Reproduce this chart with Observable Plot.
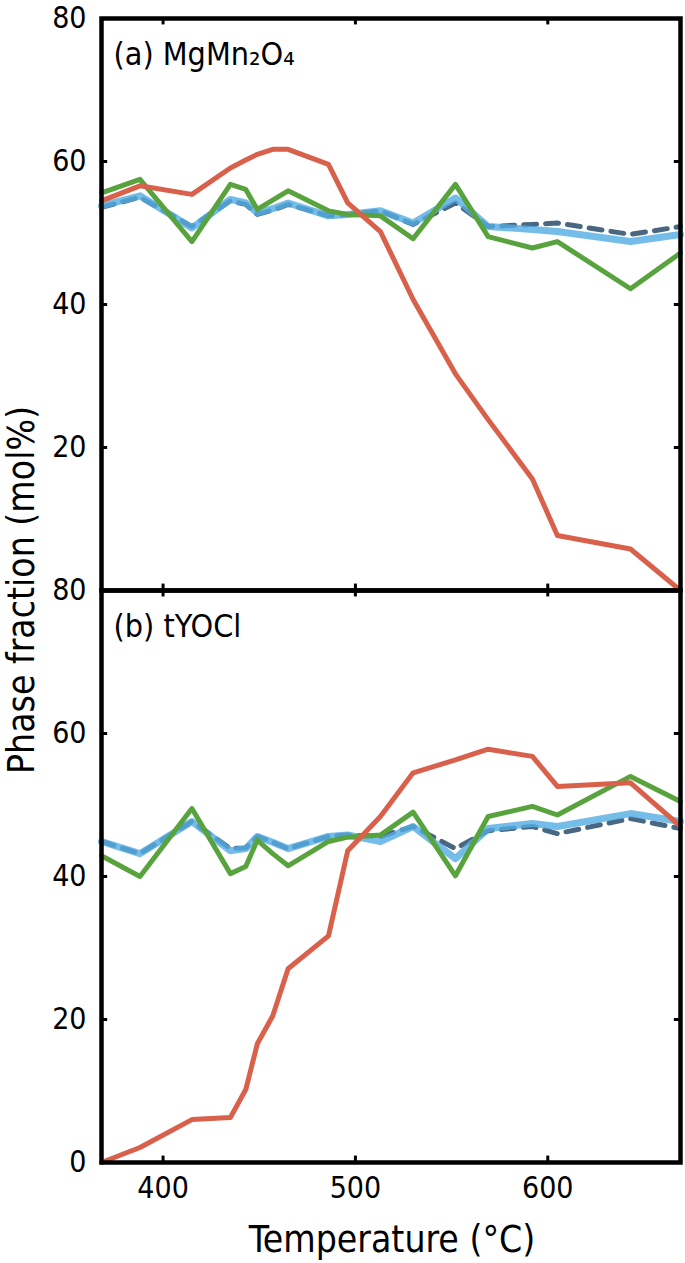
<!DOCTYPE html>
<html>
<head>
<meta charset="utf-8">
<script src="https://cdn.jsdelivr.net/npm/d3@7"></script>
<script src="https://cdn.jsdelivr.net/npm/@observablehq/plot@0.6"></script>
<style>
  html, body { margin: 0; padding: 0; background: #fff; overflow: hidden; }
  #chart svg { display: block; }
</style>
</head>
<body>
<div id="chart"></div>
<script>
// Temperatures (°C) shared by all series
const temps = [368, 388, 415, 435, 443, 449, 457, 465, 486, 496, 513, 530, 552, 569, 592, 605, 643, 669];

const panels = ["a", "b"];
const panelTitles = ["(a) MgMn\u2082O\u2084", "(b) tYOCl"];
const seriesNames = ["S1", "S2", "S3", "S4"]; // red, green, light blue, dashed

// Panel (a) MgMn2O4
const a_red    = [54.5, 56.6, 55.4, 59.1, 60.2, 61.0, 61.7, 61.7, 59.6, 54.2, 50.2, 40.7, 30.3, 23.9, 15.6, 7.7, 5.8, 0.0];
const a_green  = [55.6, 57.5, 48.8, 56.8, 56.1, 53.3, 54.6, 55.9, 53.1, 52.6, 52.4, 49.2, 56.8, 49.5, 47.9, 48.8, 42.2, 47.2];
const a_blue   = [53.8, 55.2, 50.7, 54.7, 54.2, 52.8, 53.4, 54.2, 52.4, 52.6, 53.1, 51.4, 54.9, 50.9, 50.5, 50.2, 48.8, 49.8];
const a_dashed = [53.6, 55.0, 50.9, 54.5, 54.0, 52.6, 53.2, 54.0, 52.4, 52.6, 53.1, 51.2, 54.2, 50.9, 51.2, 51.4, 49.8, 50.9];

// Panel (b) tYOCl
const b_red    = [0.0, 2.1, 6.0, 6.3, 10.2, 16.6, 20.5, 27.1, 31.7, 43.6, 48.4, 54.5, 56.3, 57.8, 56.8, 52.6, 53.1, 47.0];
const b_green  = [42.9, 40.0, 49.5, 40.4, 41.4, 45.1, 43.2, 41.5, 44.9, 45.5, 45.8, 49.0, 40.1, 48.4, 49.8, 48.6, 54.0, 50.5];
const b_blue   = [44.9, 43.2, 47.7, 43.6, 43.9, 45.6, 44.8, 43.9, 45.6, 45.8, 44.9, 47.0, 42.5, 46.7, 47.4, 47.0, 48.8, 47.7];
const b_dashed = [44.9, 43.2, 47.7, 43.9, 44.0, 45.6, 44.8, 43.9, 45.6, 45.8, 45.6, 47.0, 43.9, 46.4, 47.0, 46.0, 48.1, 46.7];

const xTicks = [400, 500, 600];
const yTicksA = [20, 40, 60, 80];      // panel (a): its 0 is hidden under panel (b)'s 80
const yTicksB = [0, 20, 40, 60, 80];
const yInnerTicks = [20, 40, 60];

const colors = {S1: "#d9604a", S2: "#58a33e", S3: "#52ade3", S4: "#4a6782"};

function rows(panel, name, vals) {
  return temps.map((t, i) => ({panel, series: name, t, v: vals[i]}));
}
const data = {
  S1: [...rows("a", "S1", a_red), ...rows("b", "S1", b_red)],
  S2: [...rows("a", "S2", a_green), ...rows("b", "S2", b_green)],
  S3: [...rows("a", "S3", a_blue), ...rows("b", "S3", b_blue)],
  S4: [...rows("a", "S4", a_dashed), ...rows("b", "S4", b_dashed)]
};
const titles = panels.map((p, i) => ({panel: p, text: panelTitles[i]}));
const yLabels = [
  ...yTicksA.map(v => ({panel: "a", v})),
  ...yTicksB.map(v => ({panel: "b", v}))
];

const font = "'DejaVu Sans Condensed', 'Liberation Sans Narrow', 'DejaVu Sans', sans-serif";
const xDom = [368, 669];

const plot = Plot.plot({
  width: 685,
  height: 1263,
  marginLeft: 101,
  marginRight: 5,
  marginTop: 18,
  marginBottom: 101,
  style: {fontFamily: font, fontSize: "30px", background: "#fff", color: "#000"},
  x: {domain: xDom, ticks: xTicks, tickSize: 0, tickPadding: 14, label: null},
  y: {domain: [0, 80], axis: null},
  fy: {domain: panels, axis: null, padding: 0},
  marks: [
    Plot.line(data.S4, {x: "t", y: "v", fy: "panel", z: "panel", stroke: colors.S4, strokeWidth: 5, strokeDasharray: "13,9"}),
    Plot.line(data.S3, {x: "t", y: "v", fy: "panel", z: "panel", stroke: colors.S3, strokeWidth: 7, strokeOpacity: 0.8}),
    Plot.line(data.S2, {x: "t", y: "v", fy: "panel", z: "panel", stroke: colors.S2, strokeWidth: 5}),
    Plot.line(data.S1, {x: "t", y: "v", fy: "panel", z: "panel", stroke: colors.S1, strokeWidth: 5}),
    // inward ticks
    Plot.ruleX(xTicks, {x: d => d, y1: 0, y2: 0.9, stroke: "#000", strokeWidth: 3}),
    Plot.ruleX(xTicks, {x: d => d, y1: 79.1, y2: 80, stroke: "#000", strokeWidth: 3}),
    Plot.ruleY(yInnerTicks, {y: d => d, x1: xDom[0], x2: xDom[0] + 3.2, stroke: "#000", strokeWidth: 3}),
    Plot.ruleY(yInnerTicks, {y: d => d, x1: xDom[1] - 3.2, x2: xDom[1], stroke: "#000", strokeWidth: 3}),
    Plot.frame({stroke: "#000", strokeWidth: 4.5}),
    // y tick labels per panel
    Plot.text(yLabels, {fy: "panel", y: "v", text: d => String(d.v), frameAnchor: "left", dx: -15, textAnchor: "end", fontSize: 30, fill: "#000"}),
    Plot.text(titles, {fy: "panel", text: "text", frameAnchor: "top-left", dx: 12, dy: 24, textAnchor: "start", lineAnchor: "top", fontSize: 32, fill: "#000"})
  ]
});

const svg = d3.select(plot);
svg.append("text")
  .attr("transform", "translate(34,590) rotate(-90)")
  .attr("text-anchor", "middle")
  .attr("font-family", font)
  .attr("font-size", 37)
  .text("Phase fraction (mol%)");
svg.append("text")
  .attr("x", 392)
  .attr("y", 1252)
  .attr("text-anchor", "middle")
  .attr("font-family", font)
  .attr("font-size", 37)
  .text("Temperature (\u00B0C)");

document.getElementById("chart").appendChild(plot);
</script>
</body>
</html>
